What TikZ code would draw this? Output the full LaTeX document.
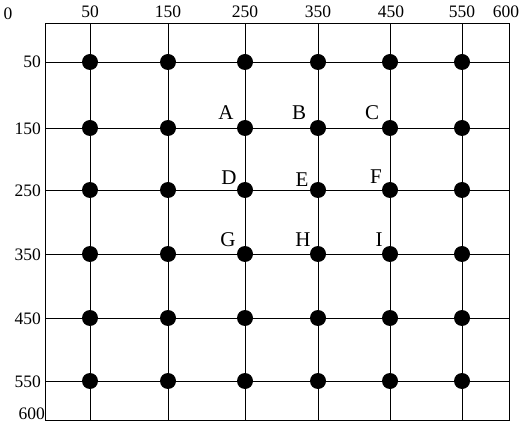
\documentclass[tikz,border=0pt]{standalone}
\usepackage{fontspec}
\setmainfont{Liberation Serif}
\begin{document}
\begin{tikzpicture}[x=1pt,y=-1pt,
  dot/.style={circle,fill=black,inner sep=0pt,minimum size=16pt},
  grid/.style={line width=0.8pt},
  frame/.style={line width=1pt},
  num/.style={font=\fontsize{17.5}{17.5}\selectfont,inner sep=0pt},
  lbl/.style={font=\fontsize{21}{21}\selectfont,inner sep=0pt}]
\useasboundingbox (0,0) rectangle (524,427);
% frame
\coordinate (tl) at (45,24);
\coordinate (tr) at (509,24);
\coordinate (bl) at (45,420);
\coordinate (br) at (509,420);
\draw[frame] (tl) -- (tr) -- (br) -- (bl) -- cycle;
% grid lines
\foreach \x in {90,168,245,318,390,462}{
  \draw[grid] (\x,24) -- (\x,420);
}
\foreach \y in {62,128,190,254,318,381}{
  \draw[grid] (45,\y) -- (509,\y);
}
% dots
\foreach \x [count=\i] in {90,168,245,318,390,462}{
  \foreach \y [count=\j] in {62,128,190,254,318,381}{
    \node[dot] (d\i\j) at (\x,\y) {};
  }
}
% top axis labels
\node[num] (t0) at (8,14) {0};
\node[num] (t1) at (90,12) {50};
\node[num] (t2) at (168,12) {150};
\node[num] (t3) at (245,12) {250};
\node[num] (t4) at (318,12) {350};
\node[num] (t5) at (391,12) {450};
\node[num] (t6) at (462,12) {550};
\node[num] (t7) at (506,12) {600};
% left axis labels
\node[num,anchor=east] (l1) at (41,62) {50};
\node[num,anchor=east] (l2) at (41,129) {150};
\node[num,anchor=east] (l3) at (41,191) {250};
\node[num,anchor=east] (l4) at (41,255) {350};
\node[num,anchor=east] (l5) at (41,319) {450};
\node[num,anchor=east] (l6) at (41,382) {550};
\node[num,anchor=east] (l7) at (45,414) {600};
% letter labels
\node[lbl] (A) at (226,113) {A};
\node[lbl] (B) at (299,113) {B};
\node[lbl] (C) at (372,113) {C};
\node[lbl] (D) at (229,178) {D};
\node[lbl] (E) at (302,180) {E};
\node[lbl] (F) at (376,177) {F};
\node[lbl] (G) at (228,240) {G};
\node[lbl] (H) at (303,240) {H};
\node[lbl] (I) at (379,240) {I};
\end{tikzpicture}
\end{document}
